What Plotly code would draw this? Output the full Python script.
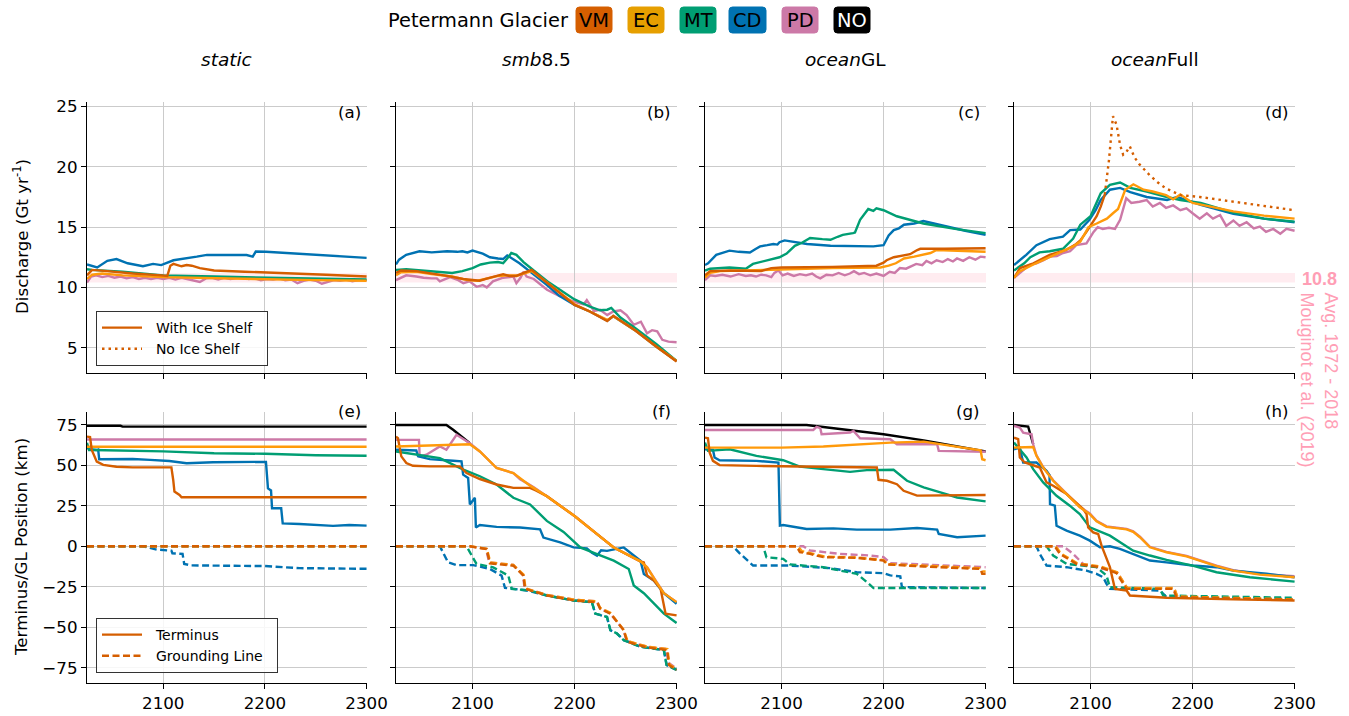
import plotly.graph_objects as go

W, H = 1349, 716
FONT = "DejaVu Sans"

# ---------------- colours ----------------
C_VM = "#d55e00"
C_EC = "#ff9a0a"
C_EC_BOX = "#e69f00"
C_MT = "#009e73"
C_CD = "#0072b2"
C_PD = "#cc79a7"
C_NO = "#000000"
C_PINK = "#ff9eb5"

# ---------------- labels ----------------
glaciers = ["VM", "EC", "MT", "CD", "PD", "NO"]
scenario_titles = ["<i>static</i>", "<i>smb</i>8.5", "<i>ocean</i>GL", "<i>ocean</i>Full"]
panel_letters = ["(a)", "(b)", "(c)", "(d)", "(e)", "(f)", "(g)", "(h)"]
x_ticks = [2100, 2200, 2300]
dis_ticks = [5, 10, 15, 20, 25]
pos_ticks = [-75, -50, -25, 0, 25, 50, 75]
pos_ticktext = ["\u221275", "\u221250", "\u221225", "0", "25", "50", "75"]
obs_mean = 10.8
obs_low = 10.4
obs_high = 11.2

# ================= DISCHARGE (Gt/yr) =================
# (a) static
a_VM_yr = [2025, 2030, 2045, 2070, 2098, 2104, 2107, 2110, 2114, 2118, 2123, 2128, 2136, 2150, 2180, 2220, 2260, 2300]
a_VM = [11.0, 11.45, 11.35, 11.15, 11.0, 10.95, 11.8, 11.95, 11.85, 11.75, 11.85, 11.8, 11.6, 11.4, 11.3, 11.2, 11.05, 10.9]
a_EC_yr = [2025, 2030, 2040, 2060, 2100, 2150, 2200, 2250, 2300]
a_EC = [10.7, 11.05, 11.15, 11.0, 10.85, 10.75, 10.7, 10.6, 10.55]
a_MT_yr = [2025, 2030, 2060, 2100, 2150, 2200, 2250, 2300]
a_MT = [11.5, 11.45, 11.3, 11.0, 10.9, 10.8, 10.7, 10.65]
a_CD_yr = [2025, 2035, 2045, 2054, 2065, 2080, 2090, 2098, 2110, 2123, 2133, 2143, 2169, 2182, 2188, 2191, 2201, 2250, 2300]
a_CD = [11.9, 11.65, 12.2, 12.35, 12.0, 11.75, 11.95, 11.85, 12.25, 12.4, 12.55, 12.7, 12.65, 12.68, 12.55, 12.97, 12.95, 12.7, 12.45]
a_PD_yr = [2025, 2029, 2034, 2040, 2046, 2052, 2058, 2064, 2070, 2076, 2082, 2088, 2094, 2100, 2106, 2112, 2118, 2124,
           2130, 2136, 2142, 2148, 2154, 2160, 2166, 2172, 2178, 2184, 2190, 2196, 2202, 2208, 2214, 2220, 2226, 2232,
           2238, 2244, 2250, 2256, 2262, 2268, 2274, 2280, 2286, 2292, 2300]
a_PD = [10.4, 10.9, 11.0, 10.85, 10.95, 10.8, 10.9, 10.75, 10.85, 10.7, 10.8, 10.7, 10.8, 10.7, 10.8, 10.65, 10.8, 10.7,
        10.6, 10.45, 10.75, 10.8, 10.65, 10.8, 10.7, 10.8, 10.85, 10.7, 10.75, 10.6, 10.7, 10.65, 10.75, 10.6, 10.65, 10.35,
        10.55, 10.65, 10.55, 10.3, 10.45, 10.6, 10.55, 10.65, 10.5, 10.6, 10.6]

# (b) smb8.5
b_VM_yr = [2025, 2030, 2045, 2058, 2075, 2091, 2100, 2107, 2113, 2120, 2126, 2130, 2136, 2143, 2150, 2158, 2173, 2200, 2215, 2232, 2238, 2260, 2280, 2300]
b_VM = [11.2, 11.4, 11.35, 11.2, 10.95, 10.7, 10.6, 10.55, 10.7, 10.85, 11.0, 11.1, 10.95, 10.95, 11.2, 11.45, 10.4, 8.55, 8.0, 7.2, 7.65, 6.4, 5.1, 3.85]
b_EC_yr = [2025, 2030, 2045, 2060, 2080, 2095, 2105, 2115, 2125, 2135, 2145, 2158, 2173, 2200, 2215, 2232, 2238, 2260, 2280, 2300]
b_EC = [11.0, 11.25, 11.3, 11.1, 10.9, 10.6, 10.55, 10.75, 10.95, 11.0, 11.0, 11.35, 10.4, 8.6, 8.0, 7.3, 7.6, 6.4, 5.1, 3.9]
b_MT_yr = [2025, 2035, 2050, 2065, 2080, 2090, 2100, 2108, 2117, 2125, 2130, 2134, 2138, 2143, 2150, 2160, 2175, 2200, 2215, 2225, 2232, 2236, 2245, 2260, 2280, 2300]
b_MT = [11.45, 11.5, 11.4, 11.3, 11.2, 11.35, 11.6, 11.9, 12.05, 12.1, 12.0, 12.4, 12.85, 12.7, 12.1, 11.4, 10.4, 9.0, 8.4, 8.1, 8.15, 8.3, 7.5, 6.6, 5.3, 3.9]
b_CD_yr = [2025, 2028, 2035, 2048, 2060, 2075, 2085, 2090, 2095, 2100, 2110, 2117, 2125, 2130, 2134, 2137, 2146, 2158, 2173, 2185, 2200, 2215, 2222, 2232, 2238, 2260, 2280, 2300]
b_CD = [11.9, 12.3, 12.7, 13.0, 12.9, 13.0, 12.95, 13.0, 12.9, 13.05, 12.8, 12.5, 12.4, 12.35, 12.65, 12.5, 12.0, 11.2, 10.2, 9.3, 8.55, 8.0, 7.7, 7.25, 7.6, 6.4, 5.1, 3.9]
b_PD_yr = [2025, 2030, 2035, 2045, 2052, 2060, 2065, 2068, 2078, 2086, 2091, 2097, 2104, 2110, 2114, 2120, 2130, 2140, 2143, 2147, 2150,
           2153, 2160, 2173, 2185, 2200, 2209, 2212, 2219, 2225, 2232, 2238, 2245, 2251, 2258, 2265, 2271, 2276, 2281, 2286, 2292, 2300]
b_PD = [10.6, 10.8, 11.0, 10.9, 10.8, 10.75, 10.75, 10.5, 10.85, 10.6, 10.35, 10.5, 10.05, 10.2, 10.0, 10.5, 10.8, 10.9, 10.35, 10.8, 11.3,
        10.9, 10.7, 9.8, 9.3, 8.8, 8.6, 8.95, 8.05, 8.15, 7.7, 8.0, 8.1, 7.7, 6.9, 7.15, 6.2, 6.45, 6.35, 5.65, 5.5, 5.45]

# (c) oceanGL
c_VM_yr = [2025, 2030, 2050, 2070, 2080, 2090, 2100, 2150, 2193, 2200, 2203, 2210, 2220, 2226, 2233, 2236, 2260, 2300]
c_VM = [11.0, 11.35, 11.4, 11.35, 11.35, 11.6, 11.65, 11.7, 11.8, 12.05, 12.25, 12.5, 12.65, 12.75, 13.1, 13.2, 13.2, 13.25]
c_EC_yr = [2025, 2030, 2040, 2100, 2150, 2197, 2205, 2212, 2220, 2230, 2240, 2246, 2252, 2270, 2300]
c_EC = [10.8, 11.2, 11.35, 11.5, 11.6, 11.65, 11.8, 12.0, 12.4, 12.55, 12.7, 12.85, 13.1, 13.05, 12.95]
c_MT_yr = [2025, 2030, 2049, 2065, 2072, 2080, 2090, 2098, 2105, 2110, 2113, 2120, 2128, 2140, 2148, 2155, 2160, 2170, 2172, 2177,
           2185, 2190, 2193, 2200, 2213, 2239, 2270, 2300]
c_MT = [11.4, 11.55, 11.65, 11.55, 11.95, 12.1, 12.3, 12.5, 12.8, 13.2, 13.45, 13.7, 14.1, 14.0, 13.95, 14.2, 14.35, 14.5, 14.55, 15.6,
        16.5, 16.35, 16.55, 16.4, 15.9, 15.3, 14.85, 14.5]
c_CD_yr = [2025, 2028, 2036, 2049, 2058, 2069, 2075, 2079, 2086, 2092, 2096, 2098, 2103, 2115, 2125, 2148, 2170, 2190, 2200, 2205,
           2210, 2215, 2220, 2230, 2239, 2259, 2280, 2300]
c_CD = [11.85, 12.0, 12.7, 13.05, 12.95, 12.9, 13.2, 13.4, 13.5, 13.6, 13.55, 13.75, 13.9, 13.75, 13.6, 13.45, 13.4, 13.4, 13.5, 14.3,
        14.75, 14.9, 15.2, 15.3, 15.5, 15.1, 14.7, 14.35]
c_PD_yr = [2025, 2030, 2035, 2042, 2050, 2058, 2065, 2070, 2075, 2080, 2085, 2090, 2093, 2097, 2101, 2106, 2112, 2118, 2124, 2130,
           2134, 2138, 2144, 2150, 2156, 2162, 2167, 2171, 2176, 2181, 2187, 2193, 2200, 2206, 2211, 2216, 2222, 2227, 2232, 2238,
           2242, 2247, 2252, 2258, 2263, 2268, 2272, 2278, 2284, 2290, 2295, 2300]
c_PD = [10.6, 11.0, 10.95, 11.05, 10.9, 11.1, 10.95, 11.0, 10.9, 11.05, 11.0, 10.85, 11.2, 11.4, 11.0, 11.15, 10.95, 11.1, 11.0, 11.15,
        10.9, 10.75, 11.05, 11.0, 11.2, 11.0, 11.15, 11.35, 11.1, 11.2, 11.0, 11.15, 10.95, 11.3, 11.2, 11.6, 11.55, 11.75, 11.95, 11.85,
        12.2, 12.0, 12.25, 12.1, 12.35, 12.15, 12.4, 12.2, 12.5, 12.3, 12.55, 12.5]

# (d) oceanFull
d_VM_yr = [2025, 2031, 2044, 2060, 2076, 2086, 2090, 2096, 2106, 2110, 2114]
d_VM = [10.8, 11.6, 12.0, 12.7, 13.1, 13.6, 13.9, 14.6, 15.9, 16.7, 17.7]
d_VM_noshelf_yr = [2114, 2118, 2122, 2125.5, 2129, 2132, 2135, 2138.5, 2143, 2148, 2158, 2166, 2174, 2188, 2207, 2240, 2272, 2300]
d_VM_noshelf = [17.7, 20.5, 24.2, 23.5, 21.8, 21.0, 21.2, 21.7, 20.8, 20.2, 19.3, 18.7, 18.2, 17.65, 17.5, 17.1, 16.7, 16.4]
d_EC_yr = [2025, 2030, 2044, 2060, 2076, 2083, 2090, 2098, 2106, 2116, 2122, 2127, 2134, 2142, 2152, 2161, 2174, 2181, 2188, 2200, 2240, 2270, 2300]
d_EC = [10.8, 11.3, 11.9, 12.5, 13.1, 13.4, 13.8, 15.0, 15.3, 15.7, 16.15, 16.5, 18.1, 18.55, 18.1, 17.95, 17.65, 17.3, 17.7, 17.0, 16.3, 15.95, 15.7]
d_MT_yr = [2025, 2035, 2041, 2050, 2060, 2073, 2083, 2090, 2100, 2110, 2119, 2129, 2139, 2155, 2175, 2188, 2208, 2240, 2270, 2300]
d_MT = [11.4, 12.0, 12.5, 12.9, 13.0, 13.2, 14.05, 15.2, 15.9, 17.8, 18.5, 18.7, 18.25, 17.95, 17.5, 17.25, 17.0, 16.2, 15.7, 15.45]
d_CD_yr = [2025, 2037, 2047, 2060, 2073, 2080, 2090, 2099, 2105, 2110, 2119, 2129, 2139, 2155, 2175, 2185, 2208, 2240, 2270, 2300]
d_CD = [11.85, 12.7, 13.5, 14.0, 14.2, 14.75, 14.8, 15.6, 16.4, 17.25, 18.1, 18.25, 17.9, 17.5, 17.25, 17.5, 16.85, 16.1, 15.7, 15.4]
d_PD_yr = [2025, 2033, 2040, 2047, 2054, 2060, 2067, 2073, 2080, 2086, 2096, 2103, 2107, 2112, 2118, 2124, 2129, 2135, 2140, 2148,
           2155, 2161, 2168, 2174, 2181, 2188, 2194, 2200, 2207, 2214, 2220, 2227, 2233, 2240, 2246, 2253, 2260, 2266, 2272, 2279,
           2286, 2292, 2300]
d_PD = [10.8, 11.4, 11.85, 12.0, 12.25, 12.55, 12.6, 12.85, 13.0, 13.5, 13.65, 14.6, 15.0, 14.85, 14.95, 14.85, 15.6, 17.4, 17.0, 17.1,
        17.25, 16.7, 17.0, 16.6, 16.8, 16.4, 16.55, 16.15, 15.7, 16.15, 15.7, 16.0, 15.1, 15.55, 15.1, 15.4, 14.9, 15.05, 14.6, 14.85,
        14.45, 14.85, 14.7]

# ================= TERMINUS / GROUNDING LINE (km) =================
# (e) static
e_NO_yr = [2025, 2058, 2060, 2300]
e_NO = [74.5, 74.5, 74.0, 74.0]
e_PD_yr = [2025, 2300]
e_PD = [66.0, 66.0]
e_EC_yr = [2025, 2300]
e_EC = [61.5, 61.5]
e_MT_yr = [2025, 2027, 2030, 2060, 2100, 2150, 2200, 2250, 2300]
e_MT = [64.0, 59.5, 59.5, 59.3, 58.7, 57.5, 57.2, 56.3, 56.0]
e_CD_yr = [2025, 2027, 2034.5, 2036, 2037, 2070, 2087, 2106, 2123, 2129, 2149, 2201, 2203, 2206, 2207, 2216, 2217.5, 2234, 2267, 2283, 2300]
e_CD = [61.5, 60, 59.5, 59.8, 53.8, 54.0, 53.4, 52.7, 51.3, 51.5, 52.0, 52.2, 35.8, 34.5, 23.5, 23.5, 14.2, 13.8, 12.6, 13.2, 12.8]
e_VM_yr = [2025, 2028, 2029.7, 2034.6, 2041, 2054, 2070, 2108, 2109.8, 2111, 2116, 2118, 2300]
e_VM = [67.8, 67.5, 59.5, 52.3, 50.3, 49.2, 48.8, 48.8, 41, 33.8, 31.7, 30.3, 30.3]
e_VM_gl_yr = [2025, 2300]
e_VM_gl = [0, 0]
e_EC_gl_yr = [2025, 2300]
e_EC_gl = [0, 0]
e_MT_gl_yr = [2025, 2300]
e_MT_gl = [0, 0]
e_PD_gl_yr = [2025, 2300]
e_PD_gl = [0, 0]
e_CD_gl_yr = [2025, 2080, 2093.5, 2108, 2109, 2119, 2120.6, 2127.8, 2200, 2234, 2300]
e_CD_gl = [0, 0, -2, -2.7, -4.3, -4.7, -10.9, -11.8, -12.2, -13.5, -13.9]

# (f) smb8.5
f_NO_yr = [2025, 2074.4, 2081, 2087.5, 2097.4]
f_NO = [75, 75, 72, 68.9, 63.7]
f_PD_yr = [2025, 2047.5, 2048.2, 2054.8, 2068, 2074.4, 2084.3, 2090, 2097.4, 2107.2, 2123.6, 2140, 2146.6, 2152, 2160, 2172.8,
           2200, 2222, 2238.4, 2264.6, 2271.1, 2287.5, 2300]
f_PD = [65.8, 65.8, 55.6, 56.6, 61.7, 59.7, 68.9, 66.8, 63.7, 58.6, 48.4, 45.3, 41.5, 39.5, 36.5, 31, 18.7, 7.5, -0.7, -9.3, -13, -29, -34.5]
f_EC_yr = [2025, 2060, 2097.4, 2107.2, 2123.6, 2140, 2156.4, 2172.8, 2200, 2222, 2238.4, 2264.6, 2271.1, 2280, 2287.5, 2300]
f_EC = [61.7, 62.3, 63.1, 58.6, 48.4, 45.3, 37.5, 31, 18.7, 7.5, -0.7, -9.3, -13, -22, -29, -34.5]
f_VM_yr = [2025, 2026.9, 2030.2, 2035.1, 2041.6, 2058, 2087.5, 2094.1, 2107.2, 2123.6, 2140, 2156.4, 2162, 2172.8, 2200, 2222,
           2238.4, 2264.6, 2267.9, 2271.1, 2277.7, 2284.3, 2289.2, 2300]
f_VM = [67.8, 66.8, 55.6, 51.5, 49.8, 49.4, 49.4, 45.3, 41.6, 38.2, 36.1, 36.1, 34.5, 31, 18.7, 7.5, -0.7, -9.3, -10.0, -18, -21.2, -26.3, -41.6, -42.7]
f_MT_yr = [2025, 2041.6, 2068, 2091, 2107.2, 2123.6, 2140, 2156.4, 2172.8, 2189.2, 2205.6, 2222, 2238.4, 2253.1, 2258, 2267.9, 2287.5, 2300]
f_MT = [58.6, 57, 54.5, 47.4, 43.3, 38.2, 30, 25.9, 15.7, 8.9, -0.7, -4.8, -8.9, -14, -24.2, -29, -41.6, -47.4]
f_CD_yr = [2025, 2044.9, 2046.6, 2058, 2081, 2089.2, 2090.8, 2095.7, 2097.4, 2102.3, 2103.3, 2107.2, 2123.6, 2146.6, 2166.2, 2169.5,
           2185.9, 2199, 2212.1, 2217, 2222, 2226, 2231.8, 2248.2, 2264.6, 2267.9, 2277.7, 2287.5, 2300]
f_CD = [59.7, 59.2, 55.6, 53.9, 52.9, 52.5, 44.3, 42.3, 25.9, 30, 11.6, 13.2, 12, 11.6, 10.5, 5.4,
        2.4, -0.7, -1.3, -4, -5.8, -2.5, -2.8, -0.7, -8.9, -17.1, -21.2, -29, -35.5]
f_CD_gl_yr = [2025, 2068, 2076, 2084, 2100.7, 2117, 2128.5, 2131.8, 2153.1, 2172.8, 2199, 2217, 2220.3, 2231.8, 2235.1, 2241.6,
              2248.2, 2264.6, 2287.5, 2290.2, 2300]
f_CD_gl = [0, 0, -9.9, -11.6, -11.6, -14, -18.1, -25.7, -27.3, -30.4, -33.5, -34.5, -41.6, -43.7, -51.9, -53.9, -58, -62.1, -64.1, -73.4, -76.4]
f_MT_gl_yr = [2025, 2094.1, 2103.9, 2120.3, 2135.1, 2138.4, 2156.4, 2172.8, 2199, 2217, 2220.3, 2231.8, 2235.1, 2241.6, 2248.2,
              2264.6, 2287.5, 2290.2, 2300]
f_MT_gl = [0, 0, -10.9, -13, -18.1, -26.3, -27.3, -30.4, -33.5, -34.5, -41.6, -43.7, -51.9, -53.9, -58, -62.1, -64.1, -73.4, -76.4]
f_PD_gl_yr = [2025, 2097, 2113, 2116.5, 2140, 2149.5, 2151, 2172.8, 2200, 2222, 2225, 2235, 2248, 2251, 2271, 2290, 2292, 2300]
f_PD_gl = [0, 0, -1.5, -10, -11.5, -17.5, -26, -30, -33, -34, -38.5, -41.5, -51.5, -58.5, -62, -63.5, -72, -75.5]
f_EC_gl_yr = [2025, 2097.4, 2114, 2117.5, 2140, 2150, 2152, 2172.8, 2200, 2222, 2225, 2235, 2248, 2252, 2271, 2291, 2293, 2300]
f_EC_gl = [0, 0, -1.5, -10, -11.5, -17.5, -26, -30, -33, -34, -38, -41, -51.5, -58.5, -62, -63.5, -73, -76]
f_VM_gl_yr = [2025, 2097.4, 2113.8, 2117, 2140, 2149.8, 2151.5, 2172.8, 2200, 2222, 2225.2, 2235.1, 2248.2, 2251.5, 2271.1, 2290.8, 2292.5, 2300]
f_VM_gl = [0, 0, -1.7, -10.5, -12, -18.1, -26.3, -30.4, -33.5, -34.5, -38.6, -41.6, -51.9, -59, -62.5, -64.1, -73.4, -76.4]

# (g) oceanGL
g_NO_yr = [2025, 2124.6, 2200, 2239.3, 2300]
g_NO = [75, 75, 69.3, 65.5, 58.6]
g_PD_yr = [2025, 2131.1, 2134.4, 2138, 2139.3, 2167.2, 2170.5, 2177, 2206.6, 2213.1, 2252.5, 2254.1, 2300]
g_PD = [71.9, 71.9, 73.8, 73, 69.3, 70.3, 71.3, 66.8, 66.2, 63.1, 63.1, 59, 58.4]
g_EC_yr = [2025, 2100, 2141, 2173.8, 2206.6, 2239.3, 2272.1, 2295.1, 2296.7, 2300]
g_EC = [61, 61, 61.7, 63.1, 64.1, 64.7, 61.7, 59.4, 53.8, 53.2]
g_VM_yr = [2025, 2027.9, 2029.5, 2032.8, 2039.3, 2075.4, 2193.4, 2195.1, 2203.3, 2213.1, 2219.7, 2232.8, 2300]
g_VM = [67.2, 66.8, 58, 52.8, 50.2, 49.7, 48.7, 41.1, 40.5, 38.4, 34.3, 31.3, 31.7]
g_MT_yr = [2025, 2027.9, 2049.2, 2075.4, 2101.6, 2118, 2141, 2167.2, 2183.6, 2209.8, 2223, 2239.3, 2255.7, 2272.1, 2300]
g_MT = [64.1, 59, 60, 55.9, 53.2, 49.3, 47.7, 46, 47.1, 47.3, 40.5, 36.4, 33.3, 30.2, 27.8]
g_CD_yr = [2025, 2032.8, 2034.4, 2039.3, 2075.4, 2095.1, 2097, 2098.4, 2101.6, 2124.6, 2150.8, 2173.8, 2206.6, 2232.8, 2252.5, 2254.1, 2272.1, 2300]
g_CD = [60, 59.6, 54.9, 53.2, 52.8, 51.8, 51.8, 12.8, 13.2, 10.7, 11.1, 10.3, 10.3, 11.3, 10.3, 7.6, 5.6, 6.6]
g_CD_gl_yr = [2025, 2052.5, 2059, 2072.1, 2108.2, 2124.6, 2147.5, 2173.8, 2200, 2206.6, 2216.4, 2218, 2300]
g_CD_gl = [0, 0, -4.3, -11.9, -11.9, -12.5, -13.5, -16, -16.6, -18, -18.6, -25.2, -25.8]
g_MT_gl_yr = [2025, 2082, 2085.2, 2101.6, 2108.2, 2141, 2157.4, 2173.8, 2183.6, 2190.2, 2300]
g_MT_gl = [0, 0, -6.7, -7.8, -11.2, -12.9, -15, -17, -22.1, -25.8, -25.8]
g_PD_gl_yr = [2025, 2121.3, 2127.9, 2141, 2157.4, 2186.9, 2200, 2206.6, 2239.3, 2300]
g_PD_gl = [0, 0, -2.6, -3.6, -4.7, -5.7, -6.7, -10.4, -11.2, -12.9]
g_EC_gl_yr = [2025, 2116, 2120, 2130, 2142, 2175, 2200, 2204, 2240, 2295, 2297, 2300]
g_EC_gl = [0, 0, -3, -4.5, -6.3, -7, -8.5, -11, -12, -13.5, -15.5, -15.5]
g_VM_gl_yr = [2025, 2114.8, 2118, 2127.9, 2141, 2173.8, 2200, 2203.3, 2239.3, 2295.1, 2296.7, 2300]
g_VM_gl = [0, 0, -3.6, -4.7, -6.7, -7.1, -8.8, -11.2, -12.5, -14, -17, -17]

# (h) oceanFull
h_NO_yr = [2025, 2037.3, 2038.9, 2043.8]
h_NO = [75, 74.4, 74, 63.1]
h_PD_yr = [2025, 2030.7, 2034, 2042.2, 2043.8, 2047, 2053.6, 2063.4, 2076.5, 2089.5, 2099.3, 2105.9, 2115.7, 2135.3, 2141.8,
           2148.4, 2158.2, 2174.5, 2194.1, 2207.2, 2223.5, 2239.9, 2266, 2300]
h_PD = [74.4, 73.4, 70.3, 69.2, 63.1, 56.3, 49, 40.8, 32.6, 24.4, 20.3, 15.8, 12.3, 10.8, 9.3, 5.9, -0.3, -3.4, -5.9, -8.5, -12, -14.7, -17.2, -18.5]
h_EC_yr = [2025, 2043.8, 2047, 2053.6, 2063.4, 2076.5, 2089.5, 2099.3, 2105.9, 2115.7, 2135.3, 2141.8, 2148.4, 2158.2, 2174.5,
           2194.1, 2207.2, 2223.5, 2239.9, 2266, 2300]
h_EC = [61, 61.4, 56, 48.7, 40.5, 32.3, 24.1, 19.9, 15.5, 12.0, 10.5, 9.0, 5.6, -0.6, -3.7, -6.2, -8.8, -12.3, -15, -17.5, -19.1]
h_VM_yr = [2025, 2029.1, 2030.7, 2035.6, 2043.8, 2050.3, 2056.9, 2063.4, 2076.5, 2092.8, 2096.1, 2097.7, 2102.6, 2107.5, 2110.8,
           2119, 2123.9, 2135.3, 2138.6, 2174.5, 2239.9, 2300]
h_VM = [67.2, 66.2, 54.9, 51.8, 50.1, 48.7, 39.5, 37.4, 32.3, 23, 19.9, 11.7, 8.6, 7.6, 0.4, -12.9, -26.3, -27.3, -30.4, -31.8, -32.8, -33.5]
h_MT_yr = [2025, 2037.3, 2043.8, 2053.6, 2066.7, 2079.7, 2089.5, 2099.3, 2119, 2141.8, 2158.2, 2174.5, 2200, 2223.5, 2256.2, 2300]
h_MT = [64.1, 54.9, 47.7, 39.5, 31.2, 25.1, 19.9, 11.7, 6.6, -2.7, -5.7, -8.4, -11.9, -16, -19.1, -21.8]
h_CD_yr = [2025, 2030.7, 2034, 2047, 2056.9, 2059.8, 2060.3, 2065, 2066.7, 2076.5, 2089.5, 2099.3, 2109.2, 2119, 2128.8, 2141.8,
           2158.2, 2174.5, 2200, 2223.5, 2239.9, 2272.5, 2300]
h_CD = [60, 61, 51.8, 51.8, 46.6, 44.0, 26.1, 25.1, 12.7, 9.7, 6.6, 3.5, -0.6, 0, -1.6, -4.7, -8.8, -9.9, -11.9, -12.9, -15, -17, -19.1]
h_CD_gl_yr = [2025, 2047, 2050.3, 2056.9, 2076.5, 2096.1, 2105.9, 2112.4, 2115.7, 2119, 2168, 2174.5, 2300]
h_CD_gl = [0, 0, -4.7, -11.9, -12.9, -15, -17, -19.1, -23.2, -26.3, -27.3, -31.4, -32.5]
h_MT_gl_yr = [2025, 2056.9, 2063.4, 2076.5, 2105.9, 2115.7, 2119, 2168, 2171.2, 2300]
h_MT_gl = [0, 0, -5.7, -10.9, -12.9, -18.1, -25.3, -26.3, -30.4, -31.8]
h_PD_gl_yr = [2025, 2073.2, 2083, 2092.8, 2105.9, 2126, 2136, 2182, 2185, 2300]
h_PD_gl = [0, 0, -4.7, -10.9, -12.9, -16, -26, -26, -31.2, -33]
h_EC_gl_yr = [2025, 2066, 2071, 2087, 2110, 2126, 2136, 2182, 2185, 2300]
h_EC_gl = [0, 0, -4.5, -10.5, -12.5, -16, -25.8, -25.8, -31, -32.8]
h_VM_gl_yr = [2025, 2065, 2069.9, 2086.3, 2109.2, 2125.5, 2135.3, 2181, 2184.3, 2300]
h_VM_gl = [0, 0, -4.7, -10.9, -12.9, -16.6, -26.3, -26.3, -31.4, -33.1]

# ================= figure =================
COLORS = {"VM": C_VM, "EC": C_EC, "MT": C_MT, "CD": C_CD, "PD": C_PD, "NO": C_NO}
LW = 2.4
DASH_GL = "7px,3.5px"
DASH_DOT = "2.5px,4px"

PANEL_X = [(87, 367), (396, 677), (705, 986), (1014, 1295)]
ROW_Y = [(101.7, 373.0), (411.7, 682.7)]
X_RANGE = [2025, 2300.4]
DIS_RANGE = [2.9, 25.4]
POS_RANGE = [-84.3, 83.2]

fig = go.Figure()


def axn(n, kind):
    return kind if n == 1 else f"{kind}{n}"


def add_line(n, t, v, color, dash="solid", width=LW):
    fig.add_trace(go.Scatter(x=t, y=v, mode="lines", line=dict(color=color, width=width, dash=dash),
                             xaxis=axn(n, "x"), yaxis=axn(n, "y"), showlegend=False, hoverinfo="skip"))


# discharge panels
top_panels = [
    (1, [("PD", a_PD_yr, a_PD), ("CD", a_CD_yr, a_CD), ("MT", a_MT_yr, a_MT), ("EC", a_EC_yr, a_EC), ("VM", a_VM_yr, a_VM)]),
    (2, [("PD", b_PD_yr, b_PD), ("CD", b_CD_yr, b_CD), ("MT", b_MT_yr, b_MT), ("EC", b_EC_yr, b_EC), ("VM", b_VM_yr, b_VM)]),
    (3, [("PD", c_PD_yr, c_PD), ("CD", c_CD_yr, c_CD), ("MT", c_MT_yr, c_MT), ("EC", c_EC_yr, c_EC), ("VM", c_VM_yr, c_VM)]),
    (4, [("PD", d_PD_yr, d_PD), ("CD", d_CD_yr, d_CD), ("MT", d_MT_yr, d_MT), ("VM", d_VM_yr, d_VM), ("EC", d_EC_yr, d_EC)]),
]
for n, series in top_panels:
    for g, t, v in series:
        add_line(n, t, v, COLORS[g])
add_line(4, d_VM_noshelf_yr, d_VM_noshelf, C_VM, dash=DASH_DOT)

# terminus / GL panels
bottom_term = [
    (5, [("NO", e_NO_yr, e_NO), ("PD", e_PD_yr, e_PD), ("CD", e_CD_yr, e_CD), ("MT", e_MT_yr, e_MT), ("EC", e_EC_yr, e_EC), ("VM", e_VM_yr, e_VM)]),
    (6, [("NO", f_NO_yr, f_NO), ("PD", f_PD_yr, f_PD), ("CD", f_CD_yr, f_CD), ("MT", f_MT_yr, f_MT), ("VM", f_VM_yr, f_VM), ("EC", f_EC_yr, f_EC)]),
    (7, [("NO", g_NO_yr, g_NO), ("PD", g_PD_yr, g_PD), ("CD", g_CD_yr, g_CD), ("MT", g_MT_yr, g_MT), ("EC", g_EC_yr, g_EC), ("VM", g_VM_yr, g_VM)]),
    (8, [("NO", h_NO_yr, h_NO), ("PD", h_PD_yr, h_PD), ("CD", h_CD_yr, h_CD), ("MT", h_MT_yr, h_MT), ("VM", h_VM_yr, h_VM), ("EC", h_EC_yr, h_EC)]),
]
bottom_gl = [
    (5, [("PD", e_PD_gl_yr, e_PD_gl), ("CD", e_CD_gl_yr, e_CD_gl), ("MT", e_MT_gl_yr, e_MT_gl), ("EC", e_EC_gl_yr, e_EC_gl), ("VM", e_VM_gl_yr, e_VM_gl)]),
    (6, [("PD", f_PD_gl_yr, f_PD_gl), ("CD", f_CD_gl_yr, f_CD_gl), ("MT", f_MT_gl_yr, f_MT_gl), ("EC", f_EC_gl_yr, f_EC_gl), ("VM", f_VM_gl_yr, f_VM_gl)]),
    (7, [("PD", g_PD_gl_yr, g_PD_gl), ("CD", g_CD_gl_yr, g_CD_gl), ("MT", g_MT_gl_yr, g_MT_gl), ("EC", g_EC_gl_yr, g_EC_gl), ("VM", g_VM_gl_yr, g_VM_gl)]),
    (8, [("PD", h_PD_gl_yr, h_PD_gl), ("CD", h_CD_gl_yr, h_CD_gl), ("MT", h_MT_gl_yr, h_MT_gl), ("EC", h_EC_gl_yr, h_EC_gl), ("VM", h_VM_gl_yr, h_VM_gl)]),
]
for n, series in bottom_gl:
    for g, t, v in series:
        add_line(n, t, v, COLORS[g], dash=DASH_GL)
for n, series in bottom_term:
    for g, t, v in series:
        add_line(n, t, v, COLORS[g])

# legend entries
NB = "\u00a0\u00a0"
fig.add_trace(go.Scatter(x=[None], y=[None], mode="lines", name=NB + "With Ice Shelf" + NB, line=dict(color=C_VM, width=LW),
                         legend="legend", showlegend=True))
fig.add_trace(go.Scatter(x=[None], y=[None], mode="lines", name=NB + "No Ice Shelf" + NB, line=dict(color=C_VM, width=LW, dash=DASH_DOT),
                         legend="legend", showlegend=True))
fig.add_trace(go.Scatter(x=[None], y=[None], mode="lines", name=NB + "Terminus" + NB, line=dict(color=C_VM, width=LW),
                         legend="legend2", showlegend=True, xaxis="x5", yaxis="y5"))
fig.add_trace(go.Scatter(x=[None], y=[None], mode="lines", name=NB + "Grounding Line" + NB, line=dict(color=C_VM, width=LW, dash=DASH_GL),
                         legend="legend2", showlegend=True, xaxis="x5", yaxis="y5"))

layout = dict(
    width=W, height=H, margin=dict(l=0, r=0, t=0, b=0, pad=0, autoexpand=False), autosize=False,
    paper_bgcolor="white", plot_bgcolor="white",
    font=dict(family=FONT, size=16.7, color="black"),
    showlegend=True,
)

tickfont = dict(family=FONT, size=16.7, color="black")
for i in range(8):
    n = i + 1
    row, col = divmod(i, 4)
    x0, x1 = PANEL_X[col]
    y0, y1 = ROW_Y[row]
    xa = dict(domain=[x0 / W, x1 / W], anchor=axn(n, "y"), range=X_RANGE, tickmode="array", tickvals=x_ticks,
              showgrid=True, gridcolor="#cbcbcb", gridwidth=1, zeroline=False, showline=True, linecolor="black",
              linewidth=1.3, ticks="outside", ticklen=5, tickwidth=1.2, tickcolor="black", automargin=False,
              showticklabels=(row == 1), tickfont=tickfont)
    if row == 0:
        ya = dict(range=DIS_RANGE, tickvals=dis_ticks)
    else:
        ya = dict(range=POS_RANGE, tickvals=pos_ticks, ticktext=pos_ticktext)
    ya.update(domain=[1 - y1 / H, 1 - y0 / H], anchor=axn(n, "x"), tickmode="array",
              showgrid=True, gridcolor="#cbcbcb", gridwidth=1, zeroline=False, showline=True, linecolor="black",
              linewidth=1.3, ticks="outside", ticklen=5, tickwidth=1.2, tickcolor="black", automargin=False,
              showticklabels=(col == 0), tickfont=tickfont)
    layout["xaxis" if n == 1 else f"xaxis{n}"] = xa
    layout["yaxis" if n == 1 else f"yaxis{n}"] = ya

layout["legend"] = dict(x=96 / W, y=1 - 311 / H, xanchor="left", yanchor="top", bgcolor="rgba(255,255,255,0.85)",
                        bordercolor="#333333", borderwidth=1, font=dict(family=FONT, size=14, color="black"),
                        itemwidth=40, tracegroupgap=0)
layout["legend2"] = dict(x=96 / W, y=1 - 618 / H, xanchor="left", yanchor="top", bgcolor="rgba(255,255,255,0.85)",
                         bordercolor="#333333", borderwidth=1, font=dict(family=FONT, size=14, color="black"),
                         itemwidth=40, tracegroupgap=0)

shapes = []
annotations = []

# observational band in discharge panels
for n in range(1, 5):
    shapes.append(dict(type="rect", xref=axn(n, "x"), yref=axn(n, "y"), x0=X_RANGE[0], x1=X_RANGE[1],
                       y0=obs_low, y1=obs_high, fillcolor="rgba(255,158,181,0.2)", line=dict(width=0), layer="below"))

# header
annotations.append(dict(text="Petermann Glacier", xref="paper", yref="paper", x=386 / W, y=1 - 20 / H,
                        xanchor="left", yanchor="middle", showarrow=False, font=dict(family=FONT, size=19.4, color="black")))
box_px = [(576, 612), (628, 664), (680, 716), (729, 766), (782, 818), (834, 870)]
box_fill = [C_VM, C_EC_BOX, C_MT, C_CD, C_PD, C_NO]
box_text = ["black", "black", "black", "black", "black", "white"]


def rounded_path(px0, py0, px1, py1, r=3.5):
    X0, X1 = px0 / W, px1 / W
    Y0, Y1 = 1 - py1 / H, 1 - py0 / H
    rx, ry = r / W, r / H
    return (f"M{X0 + rx},{Y0} L{X1 - rx},{Y0} Q{X1},{Y0} {X1},{Y0 + ry} L{X1},{Y1 - ry} Q{X1},{Y1} {X1 - rx},{Y1} "
            f"L{X0 + rx},{Y1} Q{X0},{Y1} {X0},{Y1 - ry} L{X0},{Y0 + ry} Q{X0},{Y0} {X0 + rx},{Y0} Z")


for g, (bx0, bx1), fc, tc in zip(glaciers, box_px, box_fill, box_text):
    shapes.append(dict(type="path", xref="paper", yref="paper", path=rounded_path(bx0, 7, bx1, 33),
                       fillcolor=fc, line=dict(color=fc, width=1), layer="above"))
    annotations.append(dict(text=g, xref="paper", yref="paper", x=(bx0 + bx1) / 2 / W, y=1 - 20.5 / H,
                            xanchor="center", yanchor="middle", showarrow=False,
                            font=dict(family=FONT, size=19.4, color=tc)))

# column titles
for col, title in enumerate(scenario_titles):
    x0, x1 = PANEL_X[col]
    annotations.append(dict(text=title, xref="paper", yref="paper", x=(x0 + x1) / 2 / W, y=1 - 60 / H,
                            xanchor="center", yanchor="middle", showarrow=False,
                            font=dict(family=FONT, size=18.5, color="black")))

# panel letters
for i, lab in enumerate(panel_letters):
    row, col = divmod(i, 4)
    x1 = PANEL_X[col][1]
    yc = 112 if row == 0 else 411
    annotations.append(dict(text=lab, xref="paper", yref="paper", x=(x1 - 4) / W, y=1 - yc / H,
                            xanchor="right", yanchor="middle", showarrow=False,
                            font=dict(family=FONT, size=16.7, color="black")))

# axis titles
annotations.append(dict(text="Discharge (Gt yr<sup>-1</sup>)", xref="paper", yref="paper", x=21 / W, y=1 - 237 / H,
                        xanchor="center", yanchor="middle", textangle=-90, showarrow=False,
                        font=dict(family=FONT, size=16.7, color="black")))
annotations.append(dict(text="Terminus/GL Position (km)", xref="paper", yref="paper", x=21 / W, y=1 - 547 / H,
                        xanchor="center", yanchor="middle", textangle=-90, showarrow=False,
                        font=dict(family=FONT, size=16.7, color="black")))

# observation annotation
annotations.append(dict(text=f"<b>{obs_mean}</b>", xref="paper", yref="paper", x=1319 / W, y=1 - 279 / H,
                        xanchor="center", yanchor="middle", showarrow=False,
                        font=dict(family="Liberation Sans", size=18, color=C_PINK)))
annotations.append(dict(text="Avg. 1972 - 2018<br>Mouginot et al. (2019)", xref="paper", yref="paper",
                        x=1319 / W, y=1 - 290 / H, xanchor="center", yanchor="top", textangle=90, align="left",
                        showarrow=False, font=dict(family="Liberation Sans", size=18, color=C_PINK)))

layout["shapes"] = shapes
layout["annotations"] = annotations
fig.update_layout(**layout)

fig.write_html("out.html", config={"responsive": False, "displayModeBar": False},
               post_script="document.body.style.margin='0px';document.body.style.padding='0px';"
                           "document.documentElement.style.overflow='hidden';")
